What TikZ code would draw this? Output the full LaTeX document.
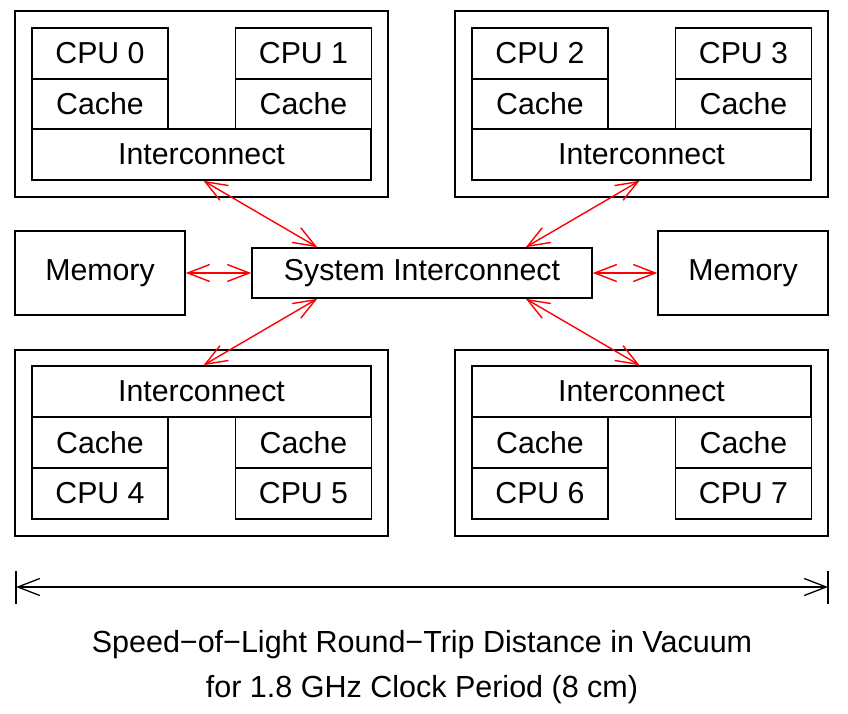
\documentclass[tikz,border=0pt]{standalone}
\usepackage{fontspec}
\setmainfont{Liberation Sans}
\usetikzlibrary{arrows.meta,calc}
\begin{document}
\begin{tikzpicture}[x=1pt,y=-1pt,
  box/.style={draw,line width=1.6pt,inner sep=0pt,font=\fontsize{30.3}{35}\selectfont},
  cpubox/.style={box,minimum width=136pt,minimum height=51pt},
  icbox/.style={box,minimum width=339pt,minimum height=51pt},
  outerbox/.style={box,minimum width=373pt,minimum height=186pt},
  link/.style={red,line width=1.4pt,{Straight Barb[length=22pt,width=17pt,line width=1.4pt]}-{Straight Barb[length=22pt,width=17pt,line width=1.4pt]}},
  dimline/.style={black,line width=1.3pt,{Straight Barb[length=22pt,width=17pt,line width=1.3pt]}-{Straight Barb[length=22pt,width=17pt,line width=1.3pt]}},
  caption/.style={font=\fontsize{30.5}{36}\selectfont,inner sep=0pt}]
\useasboundingbox (0,0) rectangle (848,714);
% top-left group
\node[outerbox] (oTL) at (201.5,104) {};
\node[cpubox] (cpu0) at (100,53.5) {CPU 0};
\node[cpubox] (ca0) at (100,104) {Cache};
\node[cpubox] (cpu1) at (303.5,53.5) {CPU 1};
\node[cpubox] (ca1) at (303.5,104) {Cache};
\node[icbox] (icTL) at (201.5,154.5) {Interconnect};
% top-right group
\node[outerbox] (oTR) at (641.5,104) {};
\node[cpubox] (cpu2) at (540,53.5) {CPU 2};
\node[cpubox] (ca2) at (540,104) {Cache};
\node[cpubox] (cpu3) at (743.5,53.5) {CPU 3};
\node[cpubox] (ca3) at (743.5,104) {Cache};
\node[icbox] (icTR) at (641.5,154.5) {Interconnect};
% bottom-left group
\node[outerbox] (oBL) at (201.5,443) {};
\node[icbox] (icBL) at (201.5,391.5) {Interconnect};
\node[cpubox] (ca4) at (100,442.5) {Cache};
\node[cpubox] (cpu4) at (100,493.5) {CPU 4};
\node[cpubox] (ca5) at (303.5,442.5) {Cache};
\node[cpubox] (cpu5) at (303.5,493.5) {CPU 5};
% bottom-right group
\node[outerbox] (oBR) at (641.5,443) {};
\node[icbox] (icBR) at (641.5,391.5) {Interconnect};
\node[cpubox] (ca6) at (540,442.5) {Cache};
\node[cpubox] (cpu6) at (540,493.5) {CPU 6};
\node[cpubox] (ca7) at (743.5,442.5) {Cache};
\node[cpubox] (cpu7) at (743.5,493.5) {CPU 7};
% middle row
\node[box,minimum width=170pt,minimum height=84pt] (memL) at (100,273) {Memory};
\node[box,minimum width=170pt,minimum height=84pt] (memR) at (743,273) {Memory};
\node[box,minimum width=340pt,minimum height=50pt] (sys) at (422,273) {System Interconnect};
% links
\draw[link] ($(icTL.south)+(2,0)$) -- ($(sys.north west)+(66,0)$);
\draw[link] ($(icTR.south)-(2,0)$) -- ($(sys.north east)-(67,0)$);
\draw[link] ($(icBL.north)+(2,0)$) -- ($(sys.south west)+(66,0)$);
\draw[link] ($(icBR.north)-(2,0)$) -- ($(sys.south east)-(67,0)$);
\draw[link] (memL.east) -- (sys.west);
\draw[link] (sys.east) -- (memR.west);
% dimension line
\coordinate (dL) at (16,587);
\coordinate (dR) at (828,587);
\draw[line width=1.3pt] ($(dL)+(0,-16)$) -- ($(dL)+(0,17)$);
\draw[line width=1.3pt] ($(dR)+(0,-16)$) -- ($(dR)+(0,17)$);
\draw[dimline] (dL) -- (dR);
\node[caption] (cap1) at (422,645) {Speed−of−Light Round−Trip Distance in Vacuum};
\node[caption] (cap2) at (422,690) {for 1.8 GHz Clock Period (8 cm)};
\end{tikzpicture}
\end{document}
